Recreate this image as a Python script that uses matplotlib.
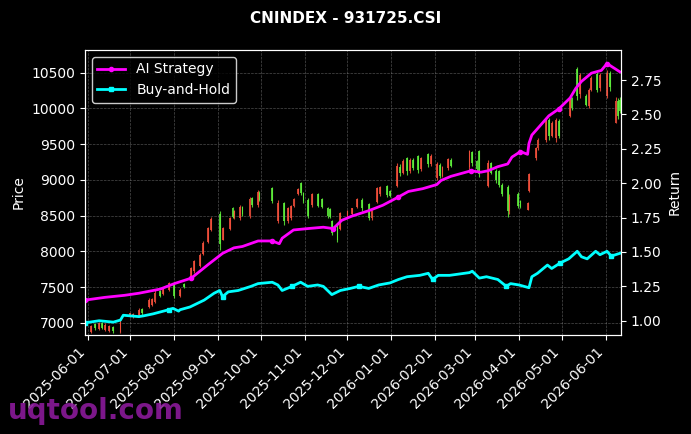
import pandas as pd
import matplotlib
matplotlib.use("Agg")
import matplotlib.pyplot as plt
import matplotlib.dates as mdates
from matplotlib.ticker import FormatStrFormatter

# ===== Data =====
candle_dates = [
    "2025-06-03", "2025-06-06", "2025-06-09", "2025-06-11", "2025-06-13", "2025-06-16",
    "2025-06-19", "2025-06-24", "2025-07-01", "2025-07-03", "2025-07-07", "2025-07-09",
    "2025-07-14", "2025-07-16", "2025-07-18", "2025-07-22", "2025-07-24", "2025-07-28",
    "2025-08-01", "2025-08-05", "2025-08-08", "2025-08-13", "2025-08-15", "2025-08-19",
    "2025-08-21", "2025-08-25", "2025-08-27", "2025-09-02", "2025-09-04", "2025-09-09",
    "2025-09-11", "2025-09-12", "2025-09-16", "2025-09-18", "2025-09-23", "2025-09-25",
    "2025-09-29", "2025-09-30", "2025-10-09", "2025-10-13", "2025-10-17", "2025-10-20",
    "2025-10-22", "2025-10-24", "2025-10-27", "2025-10-29", "2025-10-31", "2025-11-03",
    "2025-11-06", "2025-11-10", "2025-11-13", "2025-11-17", "2025-11-19", "2025-11-20",
    "2025-11-24", "2025-11-26", "2025-12-01", "2025-12-04", "2025-12-08", "2025-12-11",
    "2025-12-16", "2025-12-18", "2025-12-22", "2025-12-24", "2025-12-29", "2025-12-31",
    "2026-01-05", "2026-01-07", "2026-01-09", "2026-01-12", "2026-01-14", "2026-01-16",
    "2026-01-20", "2026-01-22", "2026-01-27", "2026-01-29", "2026-02-02", "2026-02-04",
    "2026-02-06", "2026-02-10", "2026-02-12", "2026-02-25", "2026-02-27", "2026-03-02",
    "2026-03-04", "2026-03-10", "2026-03-12", "2026-03-16", "2026-03-18", "2026-03-20",
    "2026-03-24", "2026-03-25", "2026-03-31", "2026-04-02", "2026-04-07", "2026-04-08",
    "2026-04-13", "2026-04-14", "2026-04-20", "2026-04-22", "2026-04-24", "2026-04-27",
    "2026-04-29", "2026-05-07", "2026-05-08", "2026-05-12", "2026-05-14", "2026-05-18",
    "2026-05-20", "2026-05-22", "2026-05-26", "2026-05-28", "2026-06-02", "2026-06-04",
    "2026-06-08", "2026-06-10", "2026-06-11",
]
opens = [
    6870, 6980, 6910, 6990, 6900, 6880,
    6940, 6870, 7090, 7080, 7100, 7190,
    7220, 7250, 7290, 7440, 7400, 7460,
    7550, 7370, 7540, 7610, 7720, 7800,
    7960, 8130, 8300, 8520, 8160, 8310,
    8600, 8470, 8460, 8620, 8500, 8740,
    8650, 8820, 8880, 8420, 8680, 8430,
    8460, 8640, 8800, 8960, 8820, 8720,
    8650, 8800, 8730, 8610, 8590, 8430,
    8380, 8310, 8500, 8520, 8620, 8720,
    8660, 8460, 8690, 8800, 8910, 8840,
    8920, 9180, 9100, 9300, 9120, 9280,
    9330, 9150, 9360, 9220, 9030, 9210,
    9060, 9160, 9280, 9180, 9390, 9260,
    9400, 8920, 9230, 9120, 9130, 8930,
    8900, 8560, 8800, 8700, 8580, 8840,
    9300, 9440, 9560, 9840, 9620, 9580,
    9820, 9900, 10140, 10550, 10200, 10180,
    10030, 10260, 10480, 10280, 10180, 10500,
    9800, 10100, 10120,
]
highs = [
    6968, 6996, 7005, 7010, 6990, 6968,
    6960, 7066, 7140, 7136, 7206, 7210,
    7346, 7346, 7458, 7460, 7500, 7570,
    7570, 7480, 7556, 7780, 7880, 7976,
    8150, 8340, 8480, 8560, 8340, 8480,
    8620, 8580, 8648, 8640, 8760, 8760,
    8858, 8840, 8900, 8718, 8690, 8620,
    8648, 8746, 8886, 8970, 8830, 8746,
    8816, 8816, 8746, 8620, 8606, 8438,
    8396, 8550, 8578, 8606, 8746, 8740,
    8676, 8580, 8900, 8920, 8928, 8860,
    9236, 9220, 9290, 9320, 9306, 9300,
    9348, 9320, 9376, 9360, 9250, 9230,
    9200, 9306, 9300, 9418, 9410, 9280,
    9418, 9278, 9250, 9150, 9138, 8950,
    8928, 8800, 8830, 8720, 8690, 9096,
    9460, 9580, 9880, 9870, 9830, 9866,
    9850, 10160, 10160, 10580, 10500, 10200,
    10286, 10450, 10510, 10496, 10538, 10520,
    10160, 10140, 10160,
]
lows = [
    6856, 6898, 6898, 6910, 6890, 6870,
    6856, 6856, 7080, 7066, 7080, 7110,
    7206, 7230, 7276, 7360, 7390, 7450,
    7346, 7360, 7490, 7598, 7700, 7780,
    7950, 8116, 8280, 8018, 8158, 8298,
    8470, 8450, 8438, 8500, 8466, 8620,
    8620, 8700, 8676, 8396, 8368, 8396,
    8438, 8620, 8788, 8788, 8676, 8466,
    8620, 8620, 8606, 8466, 8466, 8228,
    8130, 8298, 8480, 8508, 8606, 8570,
    8438, 8440, 8676, 8780, 8760, 8760,
    8900, 9060, 9080, 9068, 9100, 9140,
    9096, 9130, 9180, 9200, 8998, 9020,
    9040, 9138, 9180, 9138, 9200, 9120,
    9040, 8900, 9080, 8960, 8900, 8780,
    8480, 8520, 8606, 8600, 8578, 8830,
    9278, 9420, 9530, 9560, 9600, 9530,
    9580, 9880, 9980, 10118, 10150, 10030,
    10006, 10240, 10230, 10250, 10146, 10250,
    9796, 9850, 9930,
]
closes = [
    6950, 6920, 6990, 6930, 6970, 6950,
    6880, 7050, 7130, 7120, 7180, 7130,
    7320, 7330, 7420, 7380, 7480, 7550,
    7380, 7460, 7500, 7760, 7860, 7950,
    8120, 8320, 8450, 8100, 8320, 8460,
    8480, 8560, 8620, 8520, 8730, 8650,
    8830, 8720, 8700, 8680, 8420, 8600,
    8630, 8730, 8870, 8810, 8700, 8500,
    8800, 8640, 8620, 8490, 8480, 8260,
    8160, 8530, 8570, 8600, 8730, 8600,
    8460, 8560, 8880, 8900, 8790, 8780,
    9200, 9100, 9260, 9120, 9280, 9160,
    9140, 9300, 9220, 9340, 9220, 9060,
    9180, 9290, 9200, 9400, 9240, 9150,
    9080, 9240, 9100, 9000, 8930, 8800,
    8560, 8760, 8640, 8620, 8680, 9080,
    9440, 9560, 9850, 9620, 9800, 9840,
    9620, 10140, 10000, 10180, 10470, 10050,
    10260, 10420, 10260, 10460, 10500, 10300,
    10100, 9900, 9960,
]

ai_dates = [
    "2025-05-30", "2025-06-13", "2025-06-27", "2025-07-07", "2025-07-22", "2025-08-01",
    "2025-08-13", "2025-08-25", "2025-09-04", "2025-09-12", "2025-09-18", "2025-09-29",
    "2025-10-09", "2025-10-14", "2025-10-16", "2025-10-24", "2025-11-03", "2025-11-14",
    "2025-11-21", "2025-11-27", "2025-12-04", "2025-12-10", "2025-12-16", "2025-12-26",
    "2026-01-06", "2026-01-13", "2026-01-23", "2026-02-02", "2026-02-05", "2026-02-12",
    "2026-02-26", "2026-03-05", "2026-03-10", "2026-03-17", "2026-03-24", "2026-03-27",
    "2026-04-02", "2026-04-07", "2026-04-08", "2026-04-10", "2026-04-16", "2026-04-22",
    "2026-04-29", "2026-05-07", "2026-05-11", "2026-05-15", "2026-05-22", "2026-05-29",
    "2026-06-02", "2026-06-11",
]
ai_return = [
    1.15, 1.17, 1.185, 1.20, 1.23, 1.27,
    1.31, 1.41, 1.49, 1.53, 1.54, 1.58,
    1.58, 1.56, 1.60, 1.66, 1.67, 1.68,
    1.67, 1.73, 1.76, 1.78, 1.80, 1.84,
    1.90, 1.94, 1.96, 1.99, 2.02, 2.05,
    2.09, 2.08, 2.09, 2.12, 2.14, 2.19,
    2.23, 2.21, 2.29, 2.35, 2.42, 2.49,
    2.54, 2.62, 2.69, 2.74, 2.80, 2.82,
    2.87, 2.81,
]

bh_dates = [
    "2025-05-30", "2025-06-09", "2025-06-19", "2025-06-24", "2025-06-26", "2025-07-07",
    "2025-07-10", "2025-07-17", "2025-07-28", "2025-07-31", "2025-08-04", "2025-08-05",
    "2025-08-12", "2025-08-22", "2025-08-29", "2025-09-02", "2025-09-04", "2025-09-08",
    "2025-09-15", "2025-09-24", "2025-09-29", "2025-10-09", "2025-10-13", "2025-10-16",
    "2025-10-23", "2025-10-29", "2025-11-03", "2025-11-10", "2025-11-14", "2025-11-20",
    "2025-11-26", "2025-12-03", "2025-12-09", "2025-12-16", "2025-12-23", "2025-12-31",
    "2026-01-06", "2026-01-12", "2026-01-21", "2026-01-27", "2026-01-30", "2026-02-03",
    "2026-02-11", "2026-02-25", "2026-02-27", "2026-03-04", "2026-03-09", "2026-03-17",
    "2026-03-23", "2026-03-26", "2026-04-01", "2026-04-08", "2026-04-10", "2026-04-14",
    "2026-04-21", "2026-04-24", "2026-04-30", "2026-05-06", "2026-05-12", "2026-05-15",
    "2026-05-19", "2026-05-25", "2026-05-28", "2026-06-02", "2026-06-05", "2026-06-11",
]
bh_return = [
    0.985, 1.00, 0.99, 1.005, 1.04, 1.03,
    1.035, 1.05, 1.08, 1.09, 1.07, 1.08,
    1.10, 1.15, 1.20, 1.22, 1.175, 1.21,
    1.22, 1.25, 1.27, 1.28, 1.26, 1.22,
    1.25, 1.28, 1.25, 1.26, 1.25, 1.19,
    1.22, 1.235, 1.25, 1.235, 1.26, 1.275,
    1.30, 1.32, 1.33, 1.345, 1.30, 1.33,
    1.33, 1.35, 1.36, 1.31, 1.32, 1.30,
    1.25, 1.27, 1.26, 1.24, 1.32, 1.345,
    1.405, 1.38, 1.42, 1.45, 1.505, 1.465,
    1.45, 1.505, 1.48, 1.505, 1.47, 1.49,
]

# ===== Chart =====
candle_dates = pd.to_datetime(candle_dates)
ai_dates = pd.to_datetime(ai_dates)
bh_dates = pd.to_datetime(bh_dates)

# red = up, green = down (CN convention)
up_color = "#f5503c"
down_color = "#5ff03c"
colors = [up_color if c >= o else down_color for o, c in zip(opens, closes)]
body_bottom = [min(o, c) for o, c in zip(opens, closes)]
body_height = [max(abs(c - o), 8) for o, c in zip(opens, closes)]

fig = plt.figure(figsize=(6.91, 4.34), dpi=100, facecolor="black")
ax1 = fig.add_axes([0.123, 0.228, 0.776, 0.657], facecolor="black")
ax2 = ax1.twinx()

ax1.vlines(candle_dates, lows, highs, colors=colors, lw=0.8, alpha=0.85)
ax1.bar(candle_dates, body_height, bottom=body_bottom, width=1.3, color=colors, alpha=0.85)

ax2.plot(ai_dates, ai_return, color="#ff00ff", lw=2, marker="o", ms=3, markevery=6, label="AI Strategy")
ax2.plot(bh_dates, bh_return, color="#00ffff", lw=2, marker="s", ms=3, markevery=8, label="Buy-and-Hold")

ax1.set_xlim(pd.Timestamp("2025-05-30"), pd.Timestamp("2026-06-12"))
ax1.set_ylim(6828, 10818)
ax2.set_ylim(0.896, 2.969)

ax1.xaxis.set_major_locator(mdates.MonthLocator())
ax1.xaxis.set_major_formatter(mdates.DateFormatter("%Y-%m-%d"))
plt.setp(ax1.get_xticklabels(), rotation=45, ha="right")

ax1.grid(color="grey", linestyle="--", linewidth=0.5, alpha=0.6)
for ax in (ax1, ax2):
    ax.tick_params(colors="white", labelsize=10)
    for sp in ax.spines.values():
        sp.set_color("white")

ax1.set_ylabel("Price", color="white", fontsize=10)
ax2.set_ylabel("Return", color="white", fontsize=10)
ax2.yaxis.set_major_formatter(FormatStrFormatter("%.2f"))

fig.suptitle("CNINDEX - 931725.CSI", color="white", fontsize=11, fontweight="bold", y=0.975)

leg = ax2.legend(loc="upper left", facecolor="black", edgecolor="white", fontsize=10)
for t in leg.get_texts():
    t.set_color("white")

fig.text(0.012, 0.035, "uqtool.com", color="#8a1a9a", fontsize=20, fontweight="bold", alpha=0.9)

fig.savefig("out.png", dpi=100, facecolor="black")
